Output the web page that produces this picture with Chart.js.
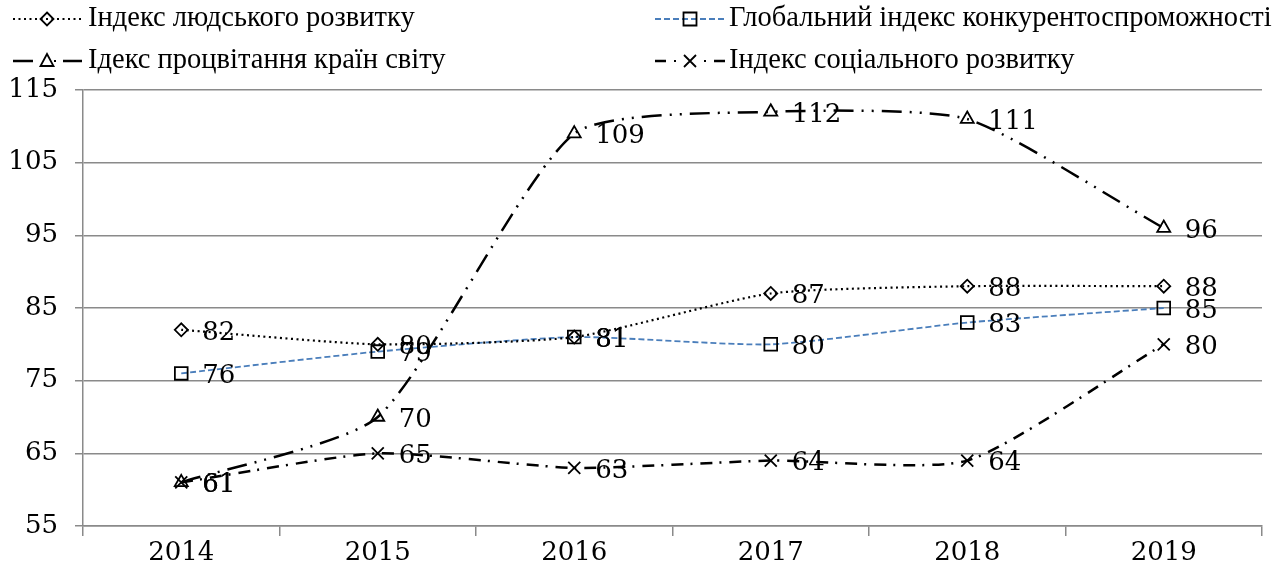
<!DOCTYPE html>
<html>
<head>
<meta charset="utf-8">
<script src="https://cdn.jsdelivr.net/npm/chart.js@4"></script>
<style>
  html, body { margin: 0; padding: 0; background: #fff; }
  canvas { display: block; }
</style>
</head>
<body>
<canvas id="indexChart" width="1280" height="574"></canvas>
<script>
// data
const years = ["2014", "2015", "2016", "2017", "2018", "2019"];
const hdiValues = [82, 80, 81, 87, 88, 88];
const gciValues = [76, 79, 81, 80, 83, 85];
const prosperityValues = [61, 70, 109, 112, 111, 96];
const socialValues = [61, 65, 63, 64, 64, 80];
const seriesNames = [
  "Індекс людського розвитку",
  "Глобальний індекс конкурентоспроможності",
  "Ідекс процвітання країн світу",
  "Індекс соціального розвитку"
];
const yMin = 55, yMax = 115, yStep = 10;

const numFont = "26px 'DejaVu Serif'";
const legendFont = "28.5px 'Liberation Serif'";
const gridColor = "#8a8a8a";
const blue = "#4a7ebb";

// draws a small marker for the legend samples
function marker(ctx, kind, x, y) {
  ctx.save();
  ctx.setLineDash([]);
  ctx.strokeStyle = "#000";
  ctx.lineWidth = 1.8;
  ctx.beginPath();
  if (kind === "diamond") {
    ctx.moveTo(x, y - 6.5); ctx.lineTo(x + 6.5, y); ctx.lineTo(x, y + 6.5); ctx.lineTo(x - 6.5, y); ctx.closePath();
  } else if (kind === "square") {
    ctx.rect(x - 6.5, y - 6.5, 13, 13);
  } else if (kind === "triangle") {
    ctx.moveTo(x, y - 7); ctx.lineTo(x + 6.5, y + 5); ctx.lineTo(x - 6.5, y + 5); ctx.closePath();
  } else {
    ctx.moveTo(x - 6, y - 6); ctx.lineTo(x + 6, y + 6);
    ctx.moveTo(x + 6, y - 6); ctx.lineTo(x - 6, y + 6);
  }
  ctx.stroke();
  ctx.restore();
}

function seg(ctx, x1, x2, y, width, dash, color) {
  ctx.save();
  ctx.strokeStyle = color || "#000";
  ctx.lineWidth = width;
  ctx.setLineDash(dash);
  ctx.beginPath();
  ctx.moveTo(x1, y);
  ctx.lineTo(x2, y);
  ctx.stroke();
  ctx.restore();
}

const legendPlugin = {
  id: "customLegend",
  afterDraw(chart) {
    const ctx = chart.ctx;
    const r1 = 19, r2 = 61;

    // row 1
    seg(ctx, 13, 82, r1, 2.2, [2, 3.5]);
    marker(ctx, "diamond", 47, r1);
    seg(ctx, 655, 725, r1, 1.8, [6, 3], blue);
    marker(ctx, "square", 690, r1);

    // row 2
    seg(ctx, 13, 33, r2, 2.5, []);
    marker(ctx, "triangle", 47, r2);
    seg(ctx, 54, 56, r2, 2, []);
    seg(ctx, 63, 82, r2, 2.5, []);

    seg(ctx, 655, 666, r2, 2.5, []);
    seg(ctx, 674, 676, r2, 2, []);
    marker(ctx, "cross", 690, r2);
    seg(ctx, 704, 706, r2, 2, []);
    seg(ctx, 714, 725, r2, 2.5, []);

    ctx.save();
    ctx.font = legendFont;
    ctx.fillStyle = "#000";
    ctx.textBaseline = "middle";
    ctx.textAlign = "left";
    ctx.fillText(seriesNames[0], 88, r1);
    ctx.fillText(seriesNames[1], 729, r1);
    ctx.fillText(seriesNames[2], 88, r2);
    ctx.fillText(seriesNames[3], 729, r2);
    ctx.restore();
  }
};

const labelPlugin = {
  id: "pointLabels",
  afterDatasetsDraw(chart) {
    const ctx = chart.ctx;
    ctx.save();
    ctx.font = numFont;
    ctx.fillStyle = "#000";
    ctx.textBaseline = "middle";
    ctx.textAlign = "left";
    chart.data.datasets.forEach((ds, i) => {
      const meta = chart.getDatasetMeta(i);
      meta.data.forEach((pt, j) => {
        ctx.fillText(String(ds.data[j]), pt.x + 21, pt.y + 3);
      });
    });
    ctx.restore();
  }
};

const ctx = document.getElementById("indexChart").getContext("2d");

new Chart(ctx, {
  type: "line",
  data: {
    labels: years,
    datasets: [
      {
        label: seriesNames[0],
        data: hdiValues,
        borderColor: "#000",
        borderWidth: 2.2,
        borderDash: [2, 3.5],
        pointStyle: "rectRot",
        pointRadius: 6.5,
        pointBorderWidth: 1.8,
        pointBorderColor: "#000",
        pointBackgroundColor: "rgba(0,0,0,0)",
        tension: 0.2
      },
      {
        label: seriesNames[1],
        data: gciValues,
        borderColor: blue,
        borderWidth: 1.8,
        borderDash: [6, 3],
        pointStyle: "rect",
        pointRadius: 9,
        pointBorderWidth: 1.8,
        pointBorderColor: "#000",
        pointBackgroundColor: "rgba(0,0,0,0)",
        tension: 0.2
      },
      {
        label: seriesNames[2],
        data: prosperityValues,
        borderColor: "#000",
        borderWidth: 2.5,
        borderDash: [20, 8, 2, 8, 2, 8],
        pointStyle: "triangle",
        pointRadius: 7.5,
        pointBorderWidth: 1.8,
        pointBorderColor: "#000",
        pointBackgroundColor: "rgba(0,0,0,0)",
        tension: 0.2
      },
      {
        label: seriesNames[3],
        data: socialValues,
        borderColor: "#000",
        borderWidth: 2.5,
        borderDash: [12, 7, 2, 8],
        pointStyle: "crossRot",
        pointRadius: 8.5,
        pointBorderWidth: 1.8,
        pointBorderColor: "#000",
        pointBackgroundColor: "rgba(0,0,0,0)",
        tension: 0.2
      }
    ]
  },
  options: {
    responsive: false,
    animation: false,
    layout: { padding: { top: 90, right: 18, left: 0, bottom: 0 } },
    plugins: {
      legend: { display: false },
      tooltip: { enabled: false }
    },
    scales: {
      x: {
        offset: true,
        grid: {
          offset: true,
          drawOnChartArea: false,
          drawTicks: true,
          tickLength: 10,
          color: gridColor,
          lineWidth: 1.5
        },
        border: { color: gridColor, width: 1.5 },
        ticks: { color: "#000", font: { family: "DejaVu Serif", size: 26 }, padding: 2 },
        afterFit(scale) { scale.height = 48; }
      },
      y: {
        min: yMin,
        max: yMax,
        ticks: {
          stepSize: yStep,
          color: "#000",
          font: { family: "DejaVu Serif", size: 26 },
          padding: 17
        },
        grid: {
          color: gridColor,
          lineWidth: 1.5,
          tickLength: 8
        },
        border: { color: gridColor, width: 1.5 },
        afterFit(scale) { scale.width = 83; }
      }
    }
  },
  plugins: [labelPlugin, legendPlugin]
});
</script>
</body>
</html>
